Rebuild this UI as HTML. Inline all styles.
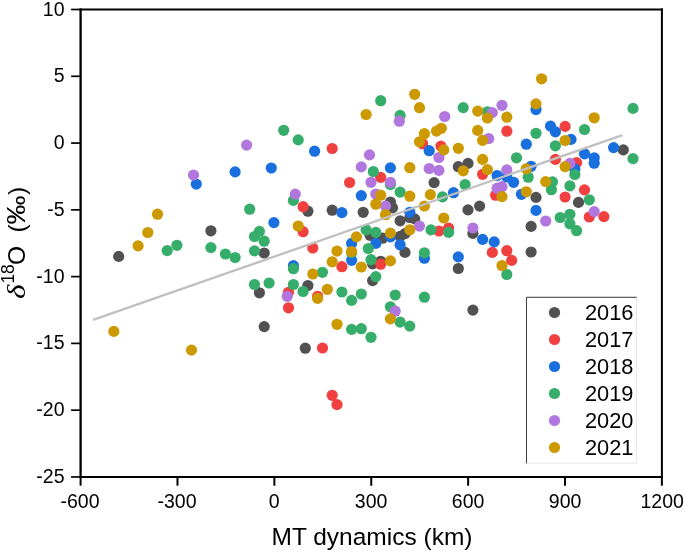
<!DOCTYPE html><html><head><meta charset="utf-8"><title>MT dynamics</title><style>html,body{margin:0;padding:0;background:#fff}svg{display:block}text{font-family:"Liberation Sans",sans-serif;fill:#000}</style></head><body>
<svg width="685" height="552" viewBox="0 0 685 552">
<rect width="685" height="552" fill="#fff"/>
<g>
<circle cx="623.3" cy="149.9" r="5.6" fill="#515151"/>
<circle cx="390.4" cy="202.0" r="5.6" fill="#515151"/>
<circle cx="392.5" cy="207.8" r="5.6" fill="#515151"/>
<circle cx="363.2" cy="212.3" r="5.6" fill="#515151"/>
<circle cx="332.2" cy="210.2" r="5.6" fill="#515151"/>
<circle cx="307.9" cy="211.2" r="5.6" fill="#515151"/>
<circle cx="458.3" cy="166.7" r="5.6" fill="#515151"/>
<circle cx="468.0" cy="163.4" r="5.6" fill="#515151"/>
<circle cx="434.1" cy="182.6" r="5.6" fill="#515151"/>
<circle cx="400.1" cy="220.9" r="5.6" fill="#515151"/>
<circle cx="414.7" cy="218.9" r="5.6" fill="#515151"/>
<circle cx="409.8" cy="217.5" r="5.6" fill="#515151"/>
<circle cx="468.0" cy="209.9" r="5.6" fill="#515151"/>
<circle cx="479.6" cy="206.1" r="5.6" fill="#515151"/>
<circle cx="536.0" cy="197.4" r="5.6" fill="#515151"/>
<circle cx="578.5" cy="202.4" r="5.6" fill="#515151"/>
<circle cx="531.1" cy="226.4" r="5.6" fill="#515151"/>
<circle cx="531.1" cy="252.0" r="5.6" fill="#515151"/>
<circle cx="370.0" cy="235.3" r="5.6" fill="#515151"/>
<circle cx="382.5" cy="238.2" r="5.6" fill="#515151"/>
<circle cx="400.1" cy="236.4" r="5.6" fill="#515151"/>
<circle cx="405.0" cy="233.6" r="5.6" fill="#515151"/>
<circle cx="372.6" cy="263.8" r="5.6" fill="#515151"/>
<circle cx="380.7" cy="261.3" r="5.6" fill="#515151"/>
<circle cx="372.6" cy="280.6" r="5.6" fill="#515151"/>
<circle cx="307.9" cy="285.5" r="5.6" fill="#515151"/>
<circle cx="472.9" cy="233.4" r="5.6" fill="#515151"/>
<circle cx="405.0" cy="252.4" r="5.6" fill="#515151"/>
<circle cx="458.3" cy="268.5" r="5.6" fill="#515151"/>
<circle cx="305.3" cy="348.2" r="5.6" fill="#515151"/>
<circle cx="472.9" cy="310.1" r="5.6" fill="#515151"/>
<circle cx="118.7" cy="256.4" r="5.6" fill="#515151"/>
<circle cx="210.9" cy="230.8" r="5.6" fill="#515151"/>
<circle cx="264.2" cy="253.0" r="5.6" fill="#515151"/>
<circle cx="259.4" cy="292.8" r="5.6" fill="#515151"/>
<circle cx="264.2" cy="326.6" r="5.6" fill="#515151"/>
<circle cx="422.6" cy="143.8" r="5.6" fill="#f14040"/>
<circle cx="506.8" cy="131.2" r="5.6" fill="#f14040"/>
<circle cx="565.1" cy="126.4" r="5.6" fill="#f14040"/>
<circle cx="332.2" cy="148.5" r="5.6" fill="#f14040"/>
<circle cx="380.7" cy="177.4" r="5.6" fill="#f14040"/>
<circle cx="349.6" cy="182.5" r="5.6" fill="#f14040"/>
<circle cx="303.1" cy="206.7" r="5.6" fill="#f14040"/>
<circle cx="440.9" cy="146.1" r="5.6" fill="#f14040"/>
<circle cx="482.6" cy="174.3" r="5.6" fill="#f14040"/>
<circle cx="495.6" cy="195.2" r="5.6" fill="#f14040"/>
<circle cx="555.4" cy="159.4" r="5.6" fill="#f14040"/>
<circle cx="576.6" cy="162.6" r="5.6" fill="#f14040"/>
<circle cx="584.5" cy="189.9" r="5.6" fill="#f14040"/>
<circle cx="565.1" cy="197.0" r="5.6" fill="#f14040"/>
<circle cx="589.3" cy="217.0" r="5.6" fill="#f14040"/>
<circle cx="603.9" cy="216.6" r="5.6" fill="#f14040"/>
<circle cx="303.1" cy="231.7" r="5.6" fill="#f14040"/>
<circle cx="312.8" cy="248.0" r="5.6" fill="#f14040"/>
<circle cx="341.9" cy="266.7" r="5.6" fill="#f14040"/>
<circle cx="380.7" cy="264.2" r="5.6" fill="#f14040"/>
<circle cx="317.6" cy="296.3" r="5.6" fill="#f14040"/>
<circle cx="438.9" cy="231.0" r="5.6" fill="#f14040"/>
<circle cx="448.6" cy="228.0" r="5.6" fill="#f14040"/>
<circle cx="492.3" cy="252.4" r="5.6" fill="#f14040"/>
<circle cx="506.8" cy="250.7" r="5.6" fill="#f14040"/>
<circle cx="511.7" cy="260.4" r="5.6" fill="#f14040"/>
<circle cx="322.5" cy="348.0" r="5.6" fill="#f14040"/>
<circle cx="288.5" cy="292.3" r="5.6" fill="#f14040"/>
<circle cx="288.5" cy="307.8" r="5.6" fill="#f14040"/>
<circle cx="332.2" cy="395.3" r="5.6" fill="#f14040"/>
<circle cx="337.0" cy="404.6" r="5.6" fill="#f14040"/>
<circle cx="196.3" cy="184.1" r="5.6" fill="#1a6fdf"/>
<circle cx="235.1" cy="171.9" r="5.6" fill="#1a6fdf"/>
<circle cx="271.3" cy="168.0" r="5.6" fill="#1a6fdf"/>
<circle cx="536.0" cy="109.6" r="5.6" fill="#1a6fdf"/>
<circle cx="550.5" cy="126.1" r="5.6" fill="#1a6fdf"/>
<circle cx="555.4" cy="131.8" r="5.6" fill="#1a6fdf"/>
<circle cx="571.0" cy="139.4" r="5.6" fill="#1a6fdf"/>
<circle cx="526.3" cy="144.2" r="5.6" fill="#1a6fdf"/>
<circle cx="613.6" cy="147.6" r="5.6" fill="#1a6fdf"/>
<circle cx="584.5" cy="153.8" r="5.6" fill="#1a6fdf"/>
<circle cx="594.2" cy="157.8" r="5.6" fill="#1a6fdf"/>
<circle cx="594.2" cy="163.2" r="5.6" fill="#1a6fdf"/>
<circle cx="314.6" cy="151.2" r="5.6" fill="#1a6fdf"/>
<circle cx="390.4" cy="167.9" r="5.6" fill="#1a6fdf"/>
<circle cx="361.3" cy="195.6" r="5.6" fill="#1a6fdf"/>
<circle cx="341.9" cy="212.6" r="5.6" fill="#1a6fdf"/>
<circle cx="429.2" cy="150.7" r="5.6" fill="#1a6fdf"/>
<circle cx="497.1" cy="175.5" r="5.6" fill="#1a6fdf"/>
<circle cx="453.5" cy="192.7" r="5.6" fill="#1a6fdf"/>
<circle cx="409.8" cy="212.3" r="5.6" fill="#1a6fdf"/>
<circle cx="574.8" cy="169.2" r="5.6" fill="#1a6fdf"/>
<circle cx="531.1" cy="166.3" r="5.6" fill="#1a6fdf"/>
<circle cx="506.8" cy="177.0" r="5.6" fill="#1a6fdf"/>
<circle cx="513.6" cy="182.3" r="5.6" fill="#1a6fdf"/>
<circle cx="521.4" cy="194.3" r="5.6" fill="#1a6fdf"/>
<circle cx="536.0" cy="210.4" r="5.6" fill="#1a6fdf"/>
<circle cx="351.6" cy="243.4" r="5.6" fill="#1a6fdf"/>
<circle cx="351.6" cy="260.3" r="5.6" fill="#1a6fdf"/>
<circle cx="375.8" cy="243.4" r="5.6" fill="#1a6fdf"/>
<circle cx="390.4" cy="236.8" r="5.6" fill="#1a6fdf"/>
<circle cx="400.1" cy="244.8" r="5.6" fill="#1a6fdf"/>
<circle cx="482.6" cy="239.4" r="5.6" fill="#1a6fdf"/>
<circle cx="494.2" cy="241.9" r="5.6" fill="#1a6fdf"/>
<circle cx="424.4" cy="258.2" r="5.6" fill="#1a6fdf"/>
<circle cx="458.3" cy="256.9" r="5.6" fill="#1a6fdf"/>
<circle cx="273.9" cy="222.6" r="5.6" fill="#1a6fdf"/>
<circle cx="293.4" cy="265.7" r="5.6" fill="#1a6fdf"/>
<circle cx="283.7" cy="130.3" r="5.6" fill="#37ad6b"/>
<circle cx="298.2" cy="139.9" r="5.6" fill="#37ad6b"/>
<circle cx="380.7" cy="100.7" r="5.6" fill="#37ad6b"/>
<circle cx="400.1" cy="115.4" r="5.6" fill="#37ad6b"/>
<circle cx="463.2" cy="107.6" r="5.6" fill="#37ad6b"/>
<circle cx="487.4" cy="111.8" r="5.6" fill="#37ad6b"/>
<circle cx="536.0" cy="133.3" r="5.6" fill="#37ad6b"/>
<circle cx="584.5" cy="129.5" r="5.6" fill="#37ad6b"/>
<circle cx="633.0" cy="108.4" r="5.6" fill="#37ad6b"/>
<circle cx="633.0" cy="158.6" r="5.6" fill="#37ad6b"/>
<circle cx="373.3" cy="171.5" r="5.6" fill="#37ad6b"/>
<circle cx="390.4" cy="184.5" r="5.6" fill="#37ad6b"/>
<circle cx="400.1" cy="192.1" r="5.6" fill="#37ad6b"/>
<circle cx="293.4" cy="200.4" r="5.6" fill="#37ad6b"/>
<circle cx="465.1" cy="184.5" r="5.6" fill="#37ad6b"/>
<circle cx="442.5" cy="196.9" r="5.6" fill="#37ad6b"/>
<circle cx="555.4" cy="145.8" r="5.6" fill="#37ad6b"/>
<circle cx="516.5" cy="157.8" r="5.6" fill="#37ad6b"/>
<circle cx="574.8" cy="174.5" r="5.6" fill="#37ad6b"/>
<circle cx="528.2" cy="177.2" r="5.6" fill="#37ad6b"/>
<circle cx="552.5" cy="181.9" r="5.6" fill="#37ad6b"/>
<circle cx="551.4" cy="189.7" r="5.6" fill="#37ad6b"/>
<circle cx="569.9" cy="185.9" r="5.6" fill="#37ad6b"/>
<circle cx="589.3" cy="199.8" r="5.6" fill="#37ad6b"/>
<circle cx="560.2" cy="217.5" r="5.6" fill="#37ad6b"/>
<circle cx="569.9" cy="214.3" r="5.6" fill="#37ad6b"/>
<circle cx="569.9" cy="223.8" r="5.6" fill="#37ad6b"/>
<circle cx="576.6" cy="230.7" r="5.6" fill="#37ad6b"/>
<circle cx="351.6" cy="252.6" r="5.6" fill="#37ad6b"/>
<circle cx="366.1" cy="229.9" r="5.6" fill="#37ad6b"/>
<circle cx="375.8" cy="232.4" r="5.6" fill="#37ad6b"/>
<circle cx="368.3" cy="248.5" r="5.6" fill="#37ad6b"/>
<circle cx="371.0" cy="259.7" r="5.6" fill="#37ad6b"/>
<circle cx="375.8" cy="276.6" r="5.6" fill="#37ad6b"/>
<circle cx="322.5" cy="272.3" r="5.6" fill="#37ad6b"/>
<circle cx="303.1" cy="291.5" r="5.6" fill="#37ad6b"/>
<circle cx="341.9" cy="292.0" r="5.6" fill="#37ad6b"/>
<circle cx="361.3" cy="294.0" r="5.6" fill="#37ad6b"/>
<circle cx="351.6" cy="300.4" r="5.6" fill="#37ad6b"/>
<circle cx="395.2" cy="295.0" r="5.6" fill="#37ad6b"/>
<circle cx="431.0" cy="229.9" r="5.6" fill="#37ad6b"/>
<circle cx="448.6" cy="232.4" r="5.6" fill="#37ad6b"/>
<circle cx="424.4" cy="252.8" r="5.6" fill="#37ad6b"/>
<circle cx="424.4" cy="297.2" r="5.6" fill="#37ad6b"/>
<circle cx="506.8" cy="274.5" r="5.6" fill="#37ad6b"/>
<circle cx="390.4" cy="306.8" r="5.6" fill="#37ad6b"/>
<circle cx="400.1" cy="322.1" r="5.6" fill="#37ad6b"/>
<circle cx="351.6" cy="329.4" r="5.6" fill="#37ad6b"/>
<circle cx="361.3" cy="328.7" r="5.6" fill="#37ad6b"/>
<circle cx="371.0" cy="337.3" r="5.6" fill="#37ad6b"/>
<circle cx="409.8" cy="326.1" r="5.6" fill="#37ad6b"/>
<circle cx="167.2" cy="250.6" r="5.6" fill="#37ad6b"/>
<circle cx="176.9" cy="245.3" r="5.6" fill="#37ad6b"/>
<circle cx="249.7" cy="209.2" r="5.6" fill="#37ad6b"/>
<circle cx="259.4" cy="231.4" r="5.6" fill="#37ad6b"/>
<circle cx="254.5" cy="236.5" r="5.6" fill="#37ad6b"/>
<circle cx="264.2" cy="241.2" r="5.6" fill="#37ad6b"/>
<circle cx="254.5" cy="250.9" r="5.6" fill="#37ad6b"/>
<circle cx="210.9" cy="247.6" r="5.6" fill="#37ad6b"/>
<circle cx="225.4" cy="254.0" r="5.6" fill="#37ad6b"/>
<circle cx="235.1" cy="257.5" r="5.6" fill="#37ad6b"/>
<circle cx="293.4" cy="268.7" r="5.6" fill="#37ad6b"/>
<circle cx="254.5" cy="284.5" r="5.6" fill="#37ad6b"/>
<circle cx="269.1" cy="283.0" r="5.6" fill="#37ad6b"/>
<circle cx="293.4" cy="284.5" r="5.6" fill="#37ad6b"/>
<circle cx="193.5" cy="175.0" r="5.6" fill="#b177de"/>
<circle cx="246.6" cy="145.1" r="5.6" fill="#b177de"/>
<circle cx="399.3" cy="121.2" r="5.6" fill="#b177de"/>
<circle cx="444.7" cy="116.5" r="5.6" fill="#b177de"/>
<circle cx="492.3" cy="112.6" r="5.6" fill="#b177de"/>
<circle cx="502.0" cy="105.3" r="5.6" fill="#b177de"/>
<circle cx="488.7" cy="138.5" r="5.6" fill="#b177de"/>
<circle cx="369.5" cy="154.9" r="5.6" fill="#b177de"/>
<circle cx="361.3" cy="166.9" r="5.6" fill="#b177de"/>
<circle cx="371.0" cy="182.3" r="5.6" fill="#b177de"/>
<circle cx="390.4" cy="182.3" r="5.6" fill="#b177de"/>
<circle cx="375.8" cy="194.0" r="5.6" fill="#b177de"/>
<circle cx="385.5" cy="206.0" r="5.6" fill="#b177de"/>
<circle cx="295.3" cy="194.1" r="5.6" fill="#b177de"/>
<circle cx="438.9" cy="157.5" r="5.6" fill="#b177de"/>
<circle cx="429.2" cy="168.5" r="5.6" fill="#b177de"/>
<circle cx="438.9" cy="170.4" r="5.6" fill="#b177de"/>
<circle cx="497.1" cy="188.2" r="5.6" fill="#b177de"/>
<circle cx="569.9" cy="163.4" r="5.6" fill="#b177de"/>
<circle cx="506.8" cy="169.9" r="5.6" fill="#b177de"/>
<circle cx="502.0" cy="186.7" r="5.6" fill="#b177de"/>
<circle cx="545.7" cy="221.0" r="5.6" fill="#b177de"/>
<circle cx="594.2" cy="211.6" r="5.6" fill="#b177de"/>
<circle cx="419.5" cy="226.1" r="5.6" fill="#b177de"/>
<circle cx="472.9" cy="228.0" r="5.6" fill="#b177de"/>
<circle cx="395.2" cy="311.2" r="5.6" fill="#b177de"/>
<circle cx="287.2" cy="296.3" r="5.6" fill="#b177de"/>
<circle cx="366.1" cy="114.5" r="5.6" fill="#cc9900"/>
<circle cx="414.7" cy="94.3" r="5.6" fill="#cc9900"/>
<circle cx="419.5" cy="107.7" r="5.6" fill="#cc9900"/>
<circle cx="477.7" cy="111.1" r="5.6" fill="#cc9900"/>
<circle cx="487.4" cy="118.0" r="5.6" fill="#cc9900"/>
<circle cx="441.3" cy="128.3" r="5.6" fill="#cc9900"/>
<circle cx="436.5" cy="131.1" r="5.6" fill="#cc9900"/>
<circle cx="424.4" cy="133.7" r="5.6" fill="#cc9900"/>
<circle cx="419.5" cy="141.8" r="5.6" fill="#cc9900"/>
<circle cx="477.7" cy="130.4" r="5.6" fill="#cc9900"/>
<circle cx="482.6" cy="140.4" r="5.6" fill="#cc9900"/>
<circle cx="541.6" cy="78.8" r="5.6" fill="#cc9900"/>
<circle cx="536.0" cy="103.9" r="5.6" fill="#cc9900"/>
<circle cx="506.8" cy="117.2" r="5.6" fill="#cc9900"/>
<circle cx="594.2" cy="117.8" r="5.6" fill="#cc9900"/>
<circle cx="565.1" cy="140.5" r="5.6" fill="#cc9900"/>
<circle cx="380.7" cy="195.2" r="5.6" fill="#cc9900"/>
<circle cx="375.8" cy="204.2" r="5.6" fill="#cc9900"/>
<circle cx="385.5" cy="214.7" r="5.6" fill="#cc9900"/>
<circle cx="443.8" cy="149.9" r="5.6" fill="#cc9900"/>
<circle cx="458.3" cy="148.3" r="5.6" fill="#cc9900"/>
<circle cx="482.6" cy="159.4" r="5.6" fill="#cc9900"/>
<circle cx="409.8" cy="167.7" r="5.6" fill="#cc9900"/>
<circle cx="463.2" cy="170.8" r="5.6" fill="#cc9900"/>
<circle cx="487.4" cy="169.6" r="5.6" fill="#cc9900"/>
<circle cx="430.4" cy="194.6" r="5.6" fill="#cc9900"/>
<circle cx="409.8" cy="196.2" r="5.6" fill="#cc9900"/>
<circle cx="424.4" cy="206.0" r="5.6" fill="#cc9900"/>
<circle cx="443.8" cy="218.0" r="5.6" fill="#cc9900"/>
<circle cx="502.0" cy="196.6" r="5.6" fill="#cc9900"/>
<circle cx="565.1" cy="166.6" r="5.6" fill="#cc9900"/>
<circle cx="526.3" cy="168.8" r="5.6" fill="#cc9900"/>
<circle cx="545.7" cy="181.6" r="5.6" fill="#cc9900"/>
<circle cx="526.3" cy="191.8" r="5.6" fill="#cc9900"/>
<circle cx="298.2" cy="226.0" r="5.6" fill="#cc9900"/>
<circle cx="337.0" cy="251.1" r="5.6" fill="#cc9900"/>
<circle cx="332.2" cy="261.8" r="5.6" fill="#cc9900"/>
<circle cx="356.4" cy="236.9" r="5.6" fill="#cc9900"/>
<circle cx="351.6" cy="251.5" r="5.6" fill="#cc9900"/>
<circle cx="361.3" cy="267.0" r="5.6" fill="#cc9900"/>
<circle cx="390.4" cy="233.1" r="5.6" fill="#cc9900"/>
<circle cx="390.4" cy="260.9" r="5.6" fill="#cc9900"/>
<circle cx="312.8" cy="274.0" r="5.6" fill="#cc9900"/>
<circle cx="327.3" cy="289.3" r="5.6" fill="#cc9900"/>
<circle cx="317.6" cy="298.4" r="5.6" fill="#cc9900"/>
<circle cx="409.8" cy="229.8" r="5.6" fill="#cc9900"/>
<circle cx="502.0" cy="265.5" r="5.6" fill="#cc9900"/>
<circle cx="390.4" cy="318.9" r="5.6" fill="#cc9900"/>
<circle cx="337.0" cy="324.3" r="5.6" fill="#cc9900"/>
<circle cx="157.5" cy="214.2" r="5.6" fill="#cc9900"/>
<circle cx="147.8" cy="232.5" r="5.6" fill="#cc9900"/>
<circle cx="138.1" cy="245.9" r="5.6" fill="#cc9900"/>
<circle cx="113.8" cy="331.4" r="5.6" fill="#cc9900"/>
<circle cx="191.5" cy="350.1" r="5.6" fill="#cc9900"/>
</g>
<line x1="93" y1="319.8" x2="622.4" y2="135.2" stroke="#c0c0c0" stroke-width="2.3"/>
<g stroke="#000" stroke-width="1.8" fill="none">
<path d="M79.5 9.5H662.9" stroke-width="1.8"/><path d="M79.5 476.9H662.9" stroke-width="2"/><path d="M80.6 8.6V477.9" stroke-width="2.3"/><path d="M661.9 8.6V477.9" stroke-width="2"/>
<path d="M80.60 476.9V485.7" stroke-width="2"/>
<path d="M177.48 476.9V485.7" stroke-width="2"/>
<path d="M274.36 476.9V485.7" stroke-width="2"/>
<path d="M371.24 476.9V485.7" stroke-width="2"/>
<path d="M468.12 476.9V485.7" stroke-width="2"/>
<path d="M565.00 476.9V485.7" stroke-width="2"/>
<path d="M661.88 476.9V485.7" stroke-width="2"/>
<path d="M71.1 9.50H80.6" stroke-width="1.7"/>
<path d="M71.1 76.28H80.6" stroke-width="1.7"/>
<path d="M71.1 143.06H80.6" stroke-width="1.7"/>
<path d="M71.1 209.84H80.6" stroke-width="1.7"/>
<path d="M71.1 276.62H80.6" stroke-width="1.7"/>
<path d="M71.1 343.40H80.6" stroke-width="1.7"/>
<path d="M71.1 410.18H80.6" stroke-width="1.7"/>
<path d="M71.1 476.96H80.6" stroke-width="1.7"/>
</g>
<g font-size="19.5" text-anchor="middle">
<text x="80.0" y="508">-600</text>
<text x="177.0" y="508">-300</text>
<text x="274.1" y="508">0</text>
<text x="371.1" y="508">300</text>
<text x="468.1" y="508">600</text>
<text x="565.1" y="508">900</text>
<text x="662.2" y="508">1200</text>
</g>
<g font-size="19.5" text-anchor="end">
<text x="64.5" y="15.7">10</text>
<text x="64.5" y="82.4">5</text>
<text x="64.5" y="149.1">0</text>
<text x="64.5" y="215.8">-5</text>
<text x="64.5" y="282.5">-10</text>
<text x="64.5" y="349.2">-15</text>
<text x="64.5" y="415.9">-20</text>
<text x="64.5" y="482.6">-25</text>
</g>
<text x="372" y="544.5" font-size="24.5" text-anchor="middle">MT dynamics (km)</text>
<g transform="translate(24.8 298) rotate(-90)" font-size="24.5"><text transform="translate(-1.1 0) scale(1.22 1)" font-size="25.5" font-style="italic" font-family="Liberation Serif,serif" style="font-family:'Liberation Serif',serif">δ</text><text x="14.4" y="-10.4" font-size="17.5">18</text><text x="33.1" y="0">O</text><text x="65.6" y="0">(</text><text transform="translate(73.5 0) scale(1.12 1)" font-size="26">‰</text><text x="103" y="0">)</text></g>
<rect x="526.5" y="297.2" width="109.8" height="165.9" fill="#fff" stroke="#e4e4e4" stroke-width="1"/>
<path d="M526.5 463.4V297.3H636.6" fill="none" stroke="#404040" stroke-width="1"/>
<circle cx="554.5" cy="312.5" r="5.6" fill="#515151"/>
<text x="585" y="319.5" font-size="21.8">2016</text>
<circle cx="554.5" cy="339.5" r="5.6" fill="#f14040"/>
<text x="585" y="346.5" font-size="21.8">2017</text>
<circle cx="554.5" cy="366.5" r="5.6" fill="#1a6fdf"/>
<text x="585" y="373.5" font-size="21.8">2018</text>
<circle cx="554.5" cy="393.5" r="5.6" fill="#37ad6b"/>
<text x="585" y="400.5" font-size="21.8">2019</text>
<circle cx="554.5" cy="420.5" r="5.6" fill="#b177de"/>
<text x="585" y="427.5" font-size="21.8">2020</text>
<circle cx="554.5" cy="447.5" r="5.6" fill="#cc9900"/>
<text x="585" y="454.5" font-size="21.8">2021</text>
</svg></body></html>
